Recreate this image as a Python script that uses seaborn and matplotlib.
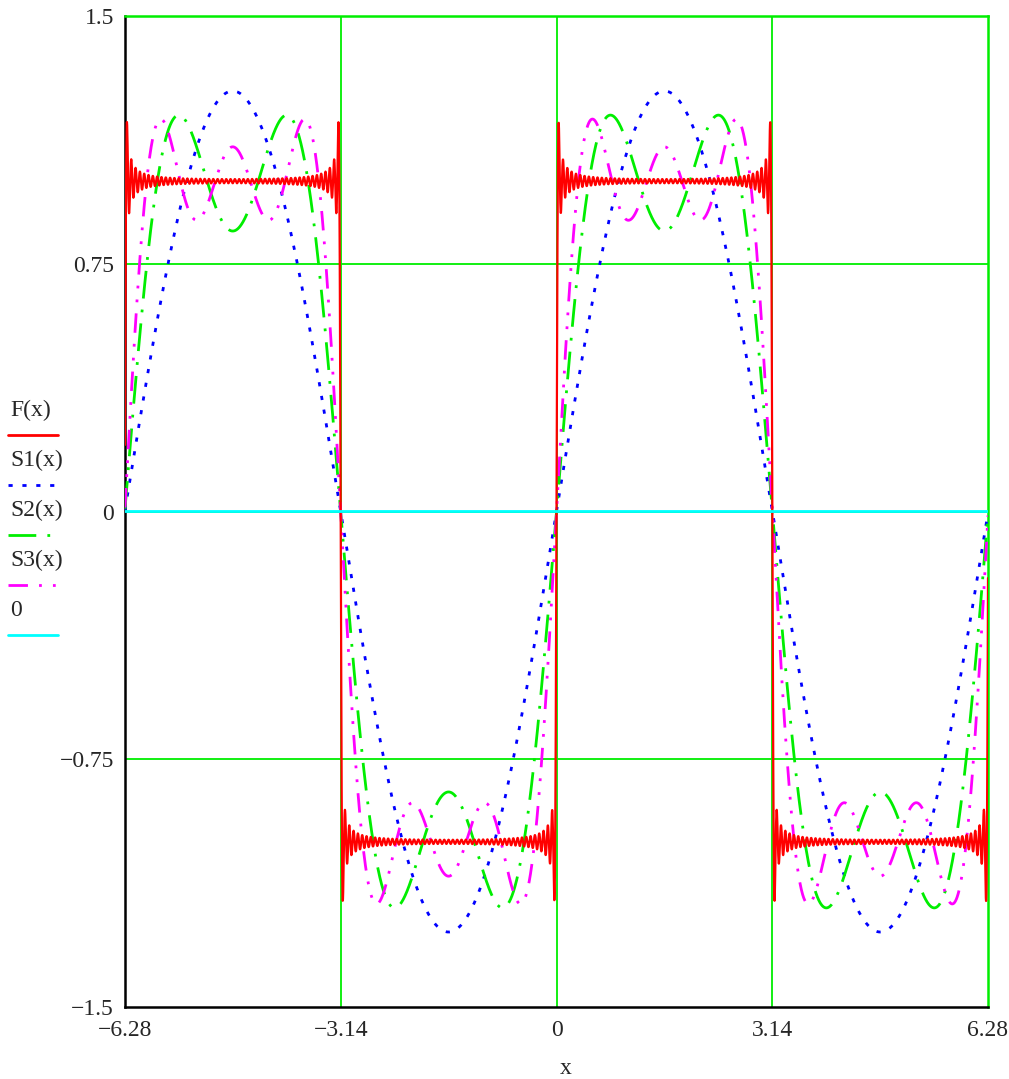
import numpy as np
import pandas as pd
import matplotlib
matplotlib.use("Agg")
import matplotlib.pyplot as plt
from matplotlib.lines import Line2D
import seaborn as sns

# Fourier sine-series terms (odd harmonics of a square wave)
S1_HARMONICS = [1]
S1_AMPS = [1.273]
S2_HARMONICS = [1, 3]
S2_AMPS = [1.273, 0.424]
S3_HARMONICS = [1, 3, 5]
S3_AMPS = [1.273, 0.424, 0.255]
F_TERMS = 50  # F(x): long partial sum, highest harmonic 99

X_TICKS = [-6.28, -3.14, 0, 3.14, 6.28]
X_LABELS = ["\u22126.28", "\u22123.14", "0", "3.14", "6.28"]
Y_TICKS = [-1.5, -0.75, 0, 0.75, 1.5]
Y_LABELS = ["\u22121.5", "\u22120.75", "0", "0.75", "1.5"]

LEGEND_NAMES = ["F(x)", "S1(x)", "S2(x)", "S3(x)", "0"]
COLORS = ["#ff0000", "#0000ff", "#00ee00", "#ff00ff", "#00ffff"]
STYLES = ["-", (0, (1.5, 3.5)), (0, (10, 4, 1, 4)), (0, (7, 4, 1, 4, 1, 4)), "-"]


def series(x, harmonics, amps):
    y = np.zeros_like(x)
    for n, a in zip(harmonics, amps):
        y += a * np.sin(n * x)
    return y


x = np.linspace(-6.28, 6.28, 4000)
f_harm = [2 * k - 1 for k in range(1, F_TERMS + 1)]
f_amps = [4 / (np.pi * n) for n in f_harm]

data = pd.DataFrame({
    "x": x,
    "F": series(x, f_harm, f_amps),
    "S1": series(x, S1_HARMONICS, S1_AMPS),
    "S2": series(x, S2_HARMONICS, S2_AMPS),
    "S3": series(x, S3_HARMONICS, S3_AMPS),
    "zero": np.zeros_like(x),
})

sns.set_style("white")
plt.rcParams["font.family"] = ["Liberation Serif", "DejaVu Serif"]

fig = plt.figure(figsize=(10.09, 10.79), dpi=100)
ax = fig.add_axes([125 / 1009, 1 - 1007 / 1079, 863 / 1009, 991 / 1079])

# green grid lines
for gx in [-3.14, 0, 3.14]:
    ax.axvline(gx, color="#00ee00", lw=1.3, zorder=1)
for gy in [-0.75, 0, 0.75]:
    ax.axhline(gy, color="#00ee00", lw=1.3, zorder=1)

cols = ["S1", "S2", "S3", "F", "zero"]
idx = [1, 2, 3, 0, 4]
for c, i in zip(cols, idx):
    sns.lineplot(data=data, x="x", y=c, ax=ax, color=COLORS[i],
                 linestyle=STYLES[i], lw=2 if i != 0 else 1.6,
                 estimator=None, sort=False, zorder=3)

ax.set_xlim(-6.28, 6.28)
ax.set_ylim(-1.5, 1.5)
ax.set_xticks(X_TICKS)
ax.set_xticklabels(X_LABELS)
ax.set_yticks(Y_TICKS)
ax.set_yticklabels(Y_LABELS)
ax.tick_params(length=0, labelsize=17)
ax.tick_params(axis="x", pad=9)
ax.tick_params(axis="y", pad=8)
ax.set_xlabel("")
ax.set_ylabel("")
for name, s in ax.spines.items():
    s.set_visible(True)
    s.set_linewidth(1.8)
    s.set_color("black" if name in ("left", "bottom") else "#00ee00")

fig.text(566 / 1009, 1 - 1068 / 1079, "x", fontsize=17, ha="center", va="center")

# legend at left
for k, name in enumerate(LEGEND_NAMES):
    ty = 410 + 50 * k
    ly = 435 + 50 * k
    fig.text(10 / 1009, 1 - ty / 1079, name, fontsize=17, ha="left", va="center")
    fig.add_artist(Line2D([8 / 1009, 58 / 1009], [1 - ly / 1079, 1 - ly / 1079],
                          color=COLORS[k], linestyle=STYLES[k], lw=2,
                          transform=fig.transFigure))

fig.savefig("out.png", dpi=100)
